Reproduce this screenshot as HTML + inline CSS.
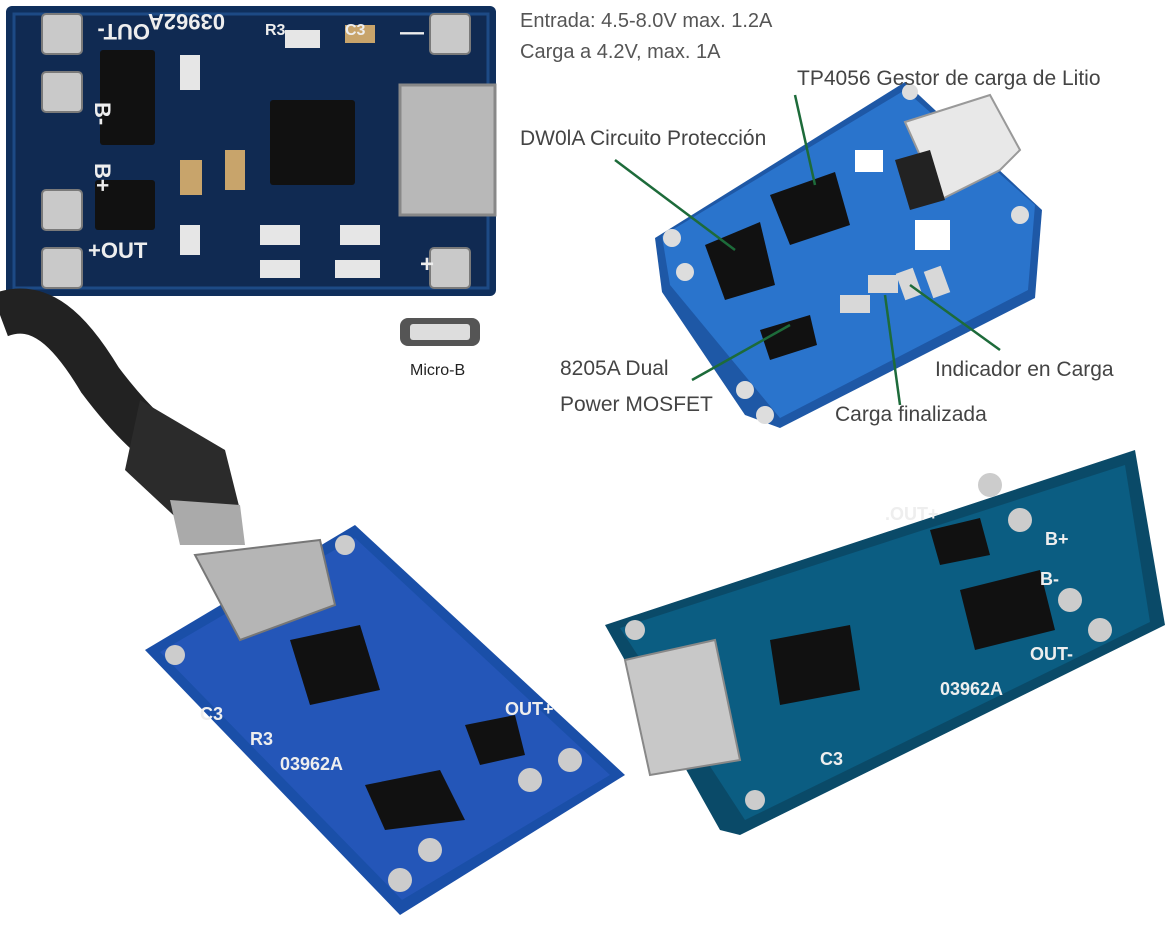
<!DOCTYPE html>
<html><head><meta charset="utf-8"><style>
html,body{margin:0;padding:0;background:#fff;}
svg{display:block;}
text{font-family:"Liberation Sans",sans-serif;}
</style></head><body>
<svg width="1170" height="936" viewBox="0 0 1170 936" xmlns="http://www.w3.org/2000/svg">
<rect width="1170" height="936" fill="#fff"/>

<!-- Top-left board -->
<rect x="6" y="6" width="490" height="290" rx="6" fill="#0f2f5c"/>
<rect x="14" y="14" width="474" height="274" fill="#102a52" stroke="#1d4a85" stroke-width="3"/>
<g fill="#c9c9c9" stroke="#7a7a7a" stroke-width="2">
<rect x="42" y="14" width="40" height="40" rx="4"/><rect x="42" y="72" width="40" height="40" rx="4"/>
<rect x="42" y="190" width="40" height="40" rx="4"/><rect x="42" y="248" width="40" height="40" rx="4"/>
<rect x="430" y="14" width="40" height="40" rx="4"/><rect x="430" y="248" width="40" height="40" rx="4"/>
</g>
<g fill="#111"><rect x="100" y="50" width="55" height="95" rx="3"/><rect x="95" y="180" width="60" height="50" rx="3"/><rect x="270" y="100" width="85" height="85" rx="3"/></g>
<rect x="400" y="85" width="95" height="130" fill="#b8b8b8" stroke="#888" stroke-width="3"/>
<g fill="#c8a46b"><rect x="180" y="160" width="22" height="35"/><rect x="345" y="25" width="30" height="18"/><rect x="225" y="150" width="20" height="40"/></g>
<g fill="#e6e6e6"><rect x="180" y="55" width="20" height="35"/><rect x="180" y="225" width="20" height="30"/><rect x="260" y="225" width="40" height="20"/><rect x="340" y="225" width="40" height="20"/><rect x="260" y="260" width="40" height="18"/><rect x="335" y="260" width="45" height="18"/><rect x="285" y="30" width="35" height="18"/></g>
<g fill="#eee" font-weight="bold" font-size="22">
<text x="90" y="40" transform="rotate(180 120 32)">OUT-</text><text x="155" y="30" transform="rotate(180 190 22)">03962A</text>
<text x="265" y="35" font-size="16">R3</text><text x="345" y="35" font-size="16">C3</text>
<text x="88" y="258" >+OUT</text><text x="420" y="272" font-size="24">+</text><text x="400" y="40" font-size="24">—</text>
<text x="92" y="115" transform="rotate(90 100 110)">B-</text><text x="88" y="180" transform="rotate(90 100 175)">B+</text>
</g>

<!-- Top-right texts -->
<g fill="#555" font-size="20">
<text x="520" y="27">Entrada:  4.5-8.0V max.  1.2A</text>
<text x="520" y="58">Carga a 4.2V,  max.  1A</text>
</g>

<!-- Annotated board -->
<polygon points="655,238 905,82 1042,210 1035,298 780,428 745,415 662,292" fill="#1e58a6"/>
<polygon points="662,236 905,90 1035,205 1028,290 780,418 670,285" fill="#2a74cc"/>
<polygon points="905,122 990,95 1020,150 1000,170 940,200" fill="#e8e8e8" stroke="#999" stroke-width="2"/>
<polygon points="895,160 930,150 945,200 910,210" fill="#222"/>
<g fill="#fff"><rect x="855" y="150" width="28" height="22"/><rect x="915" y="220" width="35" height="30"/></g>
<g fill="#111"><polygon points="705,245 760,222 775,285 725,300"/><polygon points="770,195 835,172 850,225 790,245"/><polygon points="760,330 810,315 817,345 770,360"/></g>
<g fill="#d8d8d8"><rect x="868" y="275" width="30" height="18"/><rect x="840" y="295" width="30" height="18"/><rect x="900" y="270" width="18" height="28" transform="rotate(-20 909 284)"/><rect x="928" y="268" width="18" height="28" transform="rotate(-20 937 282)"/></g>
<g fill="#ddd"><circle cx="672" cy="238" r="9"/><circle cx="685" cy="272" r="9"/><circle cx="745" cy="390" r="9"/><circle cx="765" cy="415" r="9"/><circle cx="910" cy="92" r="8"/><circle cx="1020" cy="215" r="9"/></g>
<g stroke="#1d6b3a" stroke-width="2.5" fill="none">
<line x1="795" y1="95" x2="815" y2="185"/><line x1="615" y1="160" x2="735" y2="250"/>
<line x1="692" y1="380" x2="790" y2="325"/><line x1="1000" y1="350" x2="910" y2="285"/>
<line x1="900" y1="405" x2="885" y2="295"/>
</g>
<g fill="#444" font-size="21">
<text x="797" y="85">TP4056  Gestor de carga de Litio</text>
<text x="520" y="145">DW0lA  Circuito Protección</text>
<text x="560" y="375">8205A  Dual</text>
<text x="560" y="411">Power  MOSFET</text>
<text x="935" y="376">Indicador en Carga</text>
<text x="835" y="421">Carga  finalizada</text>
</g>

<!-- Micro-B icon -->
<rect x="400" y="318" width="80" height="28" rx="8" fill="#555"/>
<rect x="410" y="324" width="60" height="16" rx="3" fill="#ddd"/>
<text x="410" y="375" font-size="16" fill="#222">Micro-B</text>

<!-- Cable -->
<path d="M0,315 C40,300 70,330 100,380 C130,420 160,450 200,470" stroke="#222" stroke-width="45" fill="none"/>
<polygon points="140,400 225,450 240,510 200,540 125,470" fill="#2b2b2b"/>
<polygon points="170,500 240,505 245,545 180,545" fill="#aaa"/>

<!-- Bottom-left board -->
<polygon points="145,650 355,525 625,775 400,915" fill="#1a4fa8"/>
<polygon points="160,652 355,538 610,775 402,900" fill="#2456b8"/>
<polygon points="195,555 320,540 335,605 240,640" fill="#b5b5b5" stroke="#777" stroke-width="2"/>
<g fill="#111"><polygon points="290,640 360,625 380,690 310,705"/><polygon points="365,785 440,770 465,820 385,830"/><polygon points="465,725 515,715 525,755 480,765"/></g>
<g fill="#ccc"><circle cx="175" cy="655" r="10"/><circle cx="345" cy="545" r="10"/><circle cx="570" cy="760" r="12"/><circle cx="530" cy="780" r="12"/><circle cx="430" cy="850" r="12"/><circle cx="400" cy="880" r="12"/></g>
<g fill="#eee" font-weight="bold" font-size="18"><text x="505" y="715">OUT+</text><text x="280" y="770">03962A</text><text x="200" y="720">C3</text><text x="250" y="745">R3</text></g>

<!-- Bottom-right board -->
<polygon points="605,625 1135,450 1165,625 740,835 720,830" fill="#0a4a68"/>
<polygon points="620,628 1125,465 1150,622 745,820" fill="#0b5d82"/>
<polygon points="625,660 715,640 740,760 650,775" fill="#c8c8c8" stroke="#888" stroke-width="2"/>
<g fill="#111"><polygon points="770,640 850,625 860,690 780,705"/><polygon points="960,590 1040,570 1055,630 975,650"/><polygon points="930,530 980,518 990,555 940,565"/></g>
<g fill="#ccc"><circle cx="635" cy="630" r="10"/><circle cx="990" cy="485" r="12"/><circle cx="1020" cy="520" r="12"/><circle cx="1070" cy="600" r="12"/><circle cx="1100" cy="630" r="12"/><circle cx="755" cy="800" r="10"/></g>
<g fill="#eee" font-weight="bold" font-size="18"><text x="885" y="520">.OUT+</text><text x="940" y="695">03962A</text><text x="1030" y="660">OUT-</text><text x="1045" y="545">B+</text><text x="1040" y="585">B-</text><text x="820" y="765">C3</text></g>
</svg>
</body></html>
